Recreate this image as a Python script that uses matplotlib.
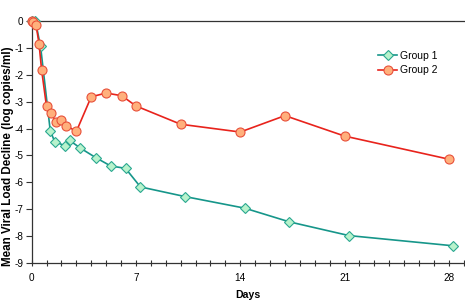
import matplotlib
matplotlib.use("Agg")
import matplotlib.pyplot as plt

plt.rcParams['font.family'] = ['Liberation Sans', 'DejaVu Sans']

days_g1 = [0, 0.25, 0.6, 1.25, 1.55, 2.25, 2.55, 3.25, 4.3, 5.3, 6.3, 7.3, 10.3, 14.3, 17.3, 21.3, 28.3]
vals_g1 = [0, 0, -0.95, -4.08, -4.49, -4.64, -4.44, -4.72, -5.08, -5.39, -5.48, -6.17, -6.53, -6.96, -7.47, -7.98, -8.36]

days_g2 = [0, 0.12, 0.3, 0.5, 0.67, 1.0, 1.3, 1.63, 2.0, 2.33, 3.0, 4.0, 5.0, 6.05, 7.0, 10.0, 14.0, 17.0, 21.0, 28.0]
vals_g2 = [0, -0.05, -0.15, -0.86, -1.82, -3.18, -3.41, -3.76, -3.67, -3.89, -4.11, -2.82, -2.68, -2.78, -3.16, -3.84, -4.13, -3.52, -4.28, -5.14]

labels = ["Group 1", "Group 2"]
xticks_major = [0, 7, 14, 21, 28]
yticks = [0, -1, -2, -3, -4, -5, -6, -7, -8, -9]

fig = plt.figure(figsize=(4.65, 3.08), dpi=100)
ax = fig.add_axes([0.068, 0.146, 0.932, 0.786])

ax.plot(days_g1, vals_g1, color='#16968a', lw=1.2, marker='D', markersize=5,
        markerfacecolor='#b8f2cc', markeredgecolor='#2aa890', markeredgewidth=0.8,
        label=labels[0], zorder=2)
ax.plot(days_g2, vals_g2, color='#e8231c', lw=1.2, marker='o', markersize=6.5,
        markerfacecolor='#ffb07c', markeredgecolor='#e8503a', markeredgewidth=0.8,
        label=labels[1], zorder=3)

ax.set_xlim(0, 29.08)
ax.set_ylim(-9, 0)
ax.set_xticks(xticks_major)
ax.set_xticks(range(0, 30), minor=True)
ax.set_yticks(yticks)
ax.set_yticklabels([str(v) for v in yticks])

ax.spines['right'].set_visible(False)
for s in ['left', 'bottom', 'top']:
    ax.spines[s].set_color('#333333')
    ax.spines[s].set_linewidth(0.9)
ax.spines['top'].set_zorder(1)

ax.tick_params(axis='x', which='both', direction='inout', length=5, width=0.8,
               color='#333333', labelsize=7.2, pad=5)
ax.tick_params(axis='y', which='both', direction='out', length=4, width=0.8,
               color='#333333', labelsize=7.2, pad=2)

ax.set_xlabel('Days', fontsize=7.6, fontweight='bold', labelpad=5)
ax.set_ylabel('Mean Viral Load Decline (log copies/ml)', fontsize=8.4, fontweight='bold')
ax.yaxis.set_label_coords(-0.04, 0.44)

leg = ax.legend(loc='upper left', bbox_to_anchor=(0.79, 0.895), frameon=False,
                fontsize=7.5, handlelength=1.8, handletextpad=0.3, labelspacing=0.45,
                borderaxespad=0)

for line in ax.get_lines():
    line.set_clip_on(False)

fig.savefig('out.png', dpi=100)
